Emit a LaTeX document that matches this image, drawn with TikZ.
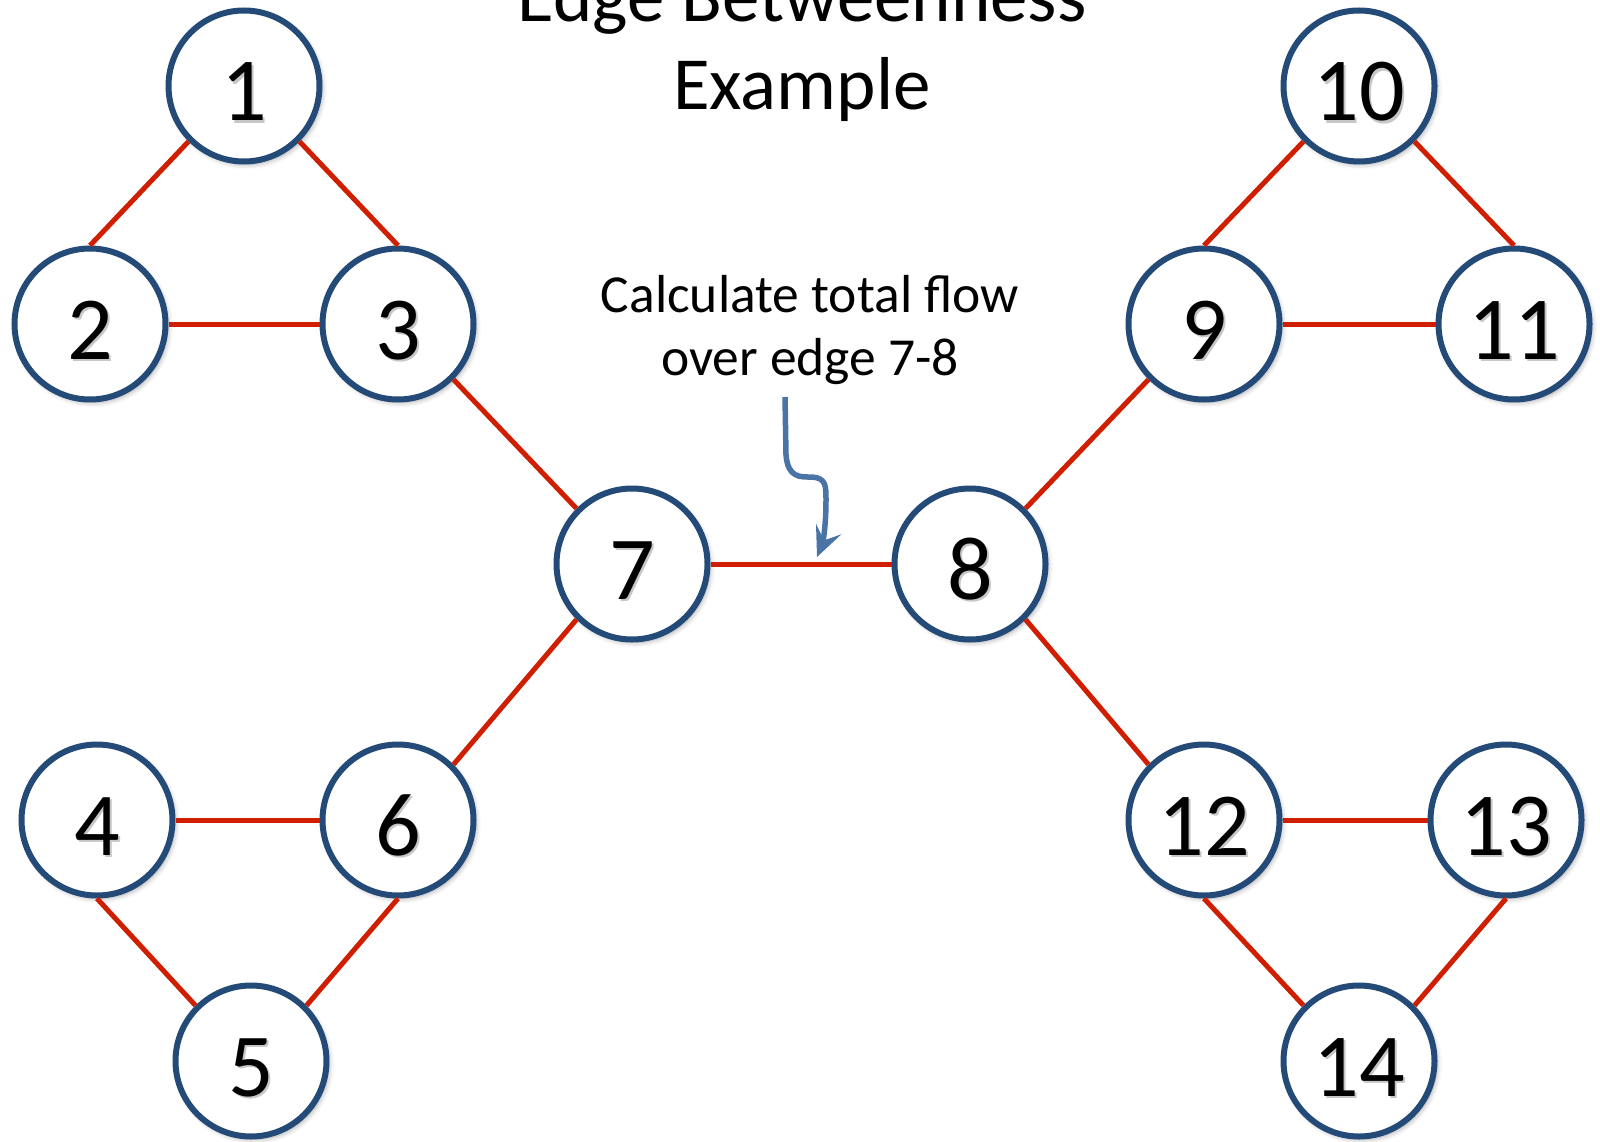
\documentclass[tikz,border=0pt]{standalone}
\usepackage{fontspec}
\setmainfont{Carlito}
\usetikzlibrary{arrows.meta,shadows.blur}
\definecolor{ringblue}{RGB}{36,74,120}
\definecolor{edgered}{RGB}{208,30,0}
\definecolor{arrowblue}{RGB}{74,116,166}
\newcommand\shadowed[1]{\leavevmode\rlap{\kern2.5pt\raisebox{-2.5pt}{\textcolor{black!22}{#1}}}#1}
\tikzset{
  vertex/.style={circle, draw=ringblue, line width=6pt, fill=white, minimum size=151pt, inner sep=0pt,
    font=\fontsize{90}{96}\selectfont, text height=78pt, text depth=8pt,
    blur shadow={shadow xshift=2.5pt, shadow yshift=-3pt, shadow blur radius=5pt, shadow opacity=35}},
  edge/.style={draw=edgered, line width=5pt},
  pointer/.style={draw=arrowblue, line width=5.5pt, -{Stealth[length=30pt,width=27pt,inset=12pt]}},
  title/.style={align=center, font=\fontsize{75}{88}\selectfont},
  note/.style={align=center, font=\fontsize{53.5}{63}\selectfont}
}
\begin{document}
\begin{tikzpicture}[x=1pt,y=-1pt]
  \clip (0,0) rectangle (1600,1142);
  % heading and note
  \node[title, anchor=base] (title) at (802,110) {Edge Betweenness\\Example};
  \node[note, anchor=base] (note) at (810,375) {Calculate total flow\\over edge 7-8};
  % left clusters
  \node[vertex] (n1) at (244,86) {\shadowed{1}};
  \node[vertex] (n2) at (90,324) {\shadowed{2}};
  \node[vertex] (n3) at (398,324) {\shadowed{3}};
  \node[vertex] (n4) at (97,820) {\shadowed{4}};
  \node[vertex] (n6) at (398,820) {\shadowed{6}};
  \node[vertex] (n5) at (251,1061) {\shadowed{5}};
  % bridge
  \node[vertex] (n7) at (632,564) {\shadowed{7}};
  \node[vertex] (n8) at (970,564) {\shadowed{8}};
  % right clusters
  \node[vertex] (n10) at (1359,86) {\shadowed{10}};
  \node[vertex] (n9) at (1204,324) {\shadowed{9}};
  \node[vertex] (n11) at (1514,324) {\shadowed{11}};
  \node[vertex] (n12) at (1204,820) {\shadowed{12}};
  \node[vertex] (n13) at (1506,820) {\shadowed{13}};
  \node[vertex] (n14) at (1359,1061) {\shadowed{14}};
  % edges
  \draw[edge] (n1.225) -- (n2.north);
  \draw[edge] (n1.315) -- (n3.north);
  \draw[edge] (n2.east) -- (n3.west);
  \draw[edge] (n3.315) -- (n7.135);
  \draw[edge] (n7.225) -- (n6.45);
  \draw[edge] (n4.east) -- (n6.west);
  \draw[edge] (n4.south) -- (n5.135);
  \draw[edge] (n6.south) -- (n5.45);
  \draw[edge] (n7.east) -- (n8.west);
  \draw[edge] (n8.45) -- (n9.225);
  \draw[edge] (n9.north) -- (n10.225);
  \draw[edge] (n10.315) -- (n11.north);
  \draw[edge] (n9.east) -- (n11.west);
  \draw[edge] (n8.315) -- (n12.135);
  \draw[edge] (n12.east) -- (n13.west);
  \draw[edge] (n12.south) -- (n14.135);
  \draw[edge] (n13.south) -- (n14.45);
  % pointer to edge 7-8
  \coordinate (ptr) at (785,397);
  \coordinate (tip) at (817,557);
  \draw[pointer] (ptr) -- (786,455) .. controls (788,478) and (800,477) .. (812,477)
    .. controls (826,478) and (826,486) .. (826,500) .. controls (826,530) and (822,545) .. (tip);
\end{tikzpicture}
\end{document}
